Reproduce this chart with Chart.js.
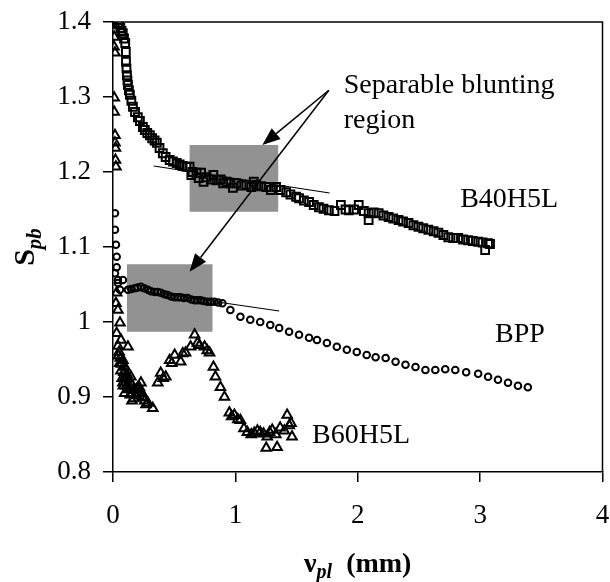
<!DOCTYPE html>
<html><head><meta charset="utf-8">
<script src="https://cdn.jsdelivr.net/npm/chart.js@4/dist/chart.umd.min.js"></script>
<style>html,body{margin:0;padding:0;background:#fff}</style>
</head><body>
<canvas id="c" width="610" height="582"></canvas>
<script>
// ---- data ----
const xTicks = [0, 1, 2, 3, 4];
const yTicks = [0.8, 0.9, 1.0, 1.1, 1.2, 1.3, 1.4];

const b40x = [0.04,0.05,0.06,0.07,0.08,0.09,0.10,0.105,0.106,0.11,0.114,0.118,0.122,0.13,0.138,0.15,0.163,0.18,0.203,0.22,0.244,0.26,0.28,0.301,0.32,0.34,0.358,0.38,0.407,0.43,0.463,0.49,0.52,0.545,0.569,0.60,0.626,0.64,0.65,0.683,0.70,0.72,0.74,0.764,0.80,0.82,0.846,0.88,0.90,0.927,0.96,0.98,1.008,1.05,1.089,1.13,1.15,1.171,1.21,1.252,1.29,1.333,1.37,1.415,1.45,1.496,1.52,1.56,1.602,1.64,1.683,1.72,1.764,1.81,1.862,1.90,1.927,1.97,2.008,2.05,2.089,2.089,2.13,2.171,2.21,2.252,2.29,2.333,2.37,2.415,2.455,2.496,2.535,2.577,2.62,2.659,2.70,2.740,2.78,2.821,2.86,2.902,2.94,2.984,3.02,3.041,3.065,3.081];
const b40y = [1.399,1.397,1.392,1.388,1.385,1.378,1.372,1.360,1.347,1.338,1.329,1.322,1.316,1.309,1.303,1.295,1.287,1.280,1.273,1.268,1.260,1.256,1.252,1.249,1.245,1.242,1.239,1.232,1.225,1.220,1.216,1.214,1.212,1.210,1.208,1.207,1.207,1.196,1.200,1.199,1.192,1.199,1.187,1.193,1.190,1.196,1.189,1.190,1.185,1.187,1.185,1.179,1.185,1.182,1.183,1.180,1.187,1.183,1.181,1.180,1.176,1.180,1.176,1.173,1.170,1.167,1.165,1.162,1.160,1.156,1.153,1.151,1.149,1.148,1.156,1.150,1.149,1.150,1.156,1.148,1.145,1.136,1.146,1.145,1.142,1.140,1.138,1.136,1.134,1.132,1.129,1.127,1.125,1.123,1.121,1.119,1.116,1.113,1.112,1.112,1.110,1.109,1.108,1.107,1.106,1.096,1.105,1.104];

const bppx = [0.016,0.016,0.024,0.03,0.03,0.016,0.04,0.04,0.057,0.081,0.122,0.15,0.179,0.20,0.228,0.255,0.285,0.31,0.341,0.365,0.390,0.42,0.447,0.475,0.504,0.53,0.553,0.58,0.610,0.64,0.667,0.69,0.715,0.74,0.772,0.80,0.829,0.86,0.894,0.959,1.041,1.122,1.203,1.285,1.358,1.439,1.520,1.602,1.667,1.748,1.829,1.911,1.992,2.073,2.146,2.228,2.309,2.390,2.472,2.553,2.634,2.715,2.797,2.886,2.984,3.065,3.146,3.228,3.309,3.390];
const bppy = [1.145,1.123,1.103,1.087,1.073,1.065,1.056,1.052,1.043,1.056,1.043,1.044,1.045,1.046,1.047,1.045,1.043,1.041,1.040,1.040,1.039,1.037,1.036,1.034,1.033,1.033,1.033,1.032,1.032,1.030,1.029,1.029,1.029,1.028,1.027,1.027,1.027,1.026,1.025,1.016,1.007,1.003,1.000,0.996,0.992,0.987,0.983,0.979,0.976,0.972,0.967,0.963,0.960,0.956,0.953,0.952,0.947,0.943,0.940,0.936,0.936,0.937,0.936,0.933,0.931,0.927,0.923,0.919,0.915,0.913];

const b60x = [0.016,0.01,0.008,0.016,0.01,0.01,0.016,0.016,0.02,0.02,0.024,0.03,0.024,0.04,0.057,0.03,0.065,0.04,0.05,0.122,0.06,0.081,0.07,0.098,0.09,0.10,0.081,0.12,0.146,0.11,0.13,0.179,0.16,0.15,0.20,0.228,0.21,0.244,0.17,0.285,0.26,0.325,
  0.045,0.055,0.065,0.075,0.085,0.095,0.105,0.115,0.125,0.14,0.155,0.165,0.19,0.215,0.235,0.255,0.27,
  0.366,0.390,0.41,0.431,0.463,0.48,0.504,0.553,0.57,0.593,0.634,0.667,0.69,0.707,0.748,0.77,0.789,0.821,0.837,0.878,0.911,0.951,0.97,0.992,1.02,1.041,1.07,1.098,1.13,1.154,1.18,1.203,1.23,1.252,1.260,1.28,1.301,1.341,1.33,1.366,1.40,1.423,1.44,1.455,1.463];
const b60y = [1.396,1.380,1.367,1.359,1.299,1.280,1.249,1.239,1.232,1.216,1.207,1.039,1.025,1.016,0.999,0.985,0.976,0.968,0.960,0.967,0.952,0.949,0.944,0.940,0.933,0.927,0.919,0.925,0.927,0.915,0.910,0.909,0.915,0.905,0.912,0.919,0.905,0.900,0.898,0.892,0.895,0.885,
  0.955,0.945,0.935,0.925,0.915,0.905,0.920,0.930,0.912,0.903,0.895,0.910,0.902,0.913,0.905,0.900,0.890,
  0.919,0.932,0.925,0.927,0.949,0.945,0.956,0.947,0.958,0.959,0.967,0.983,0.972,0.969,0.967,0.962,0.959,0.940,0.927,0.913,0.900,0.879,0.874,0.876,0.870,0.869,0.858,0.853,0.850,0.852,0.855,0.853,0.851,0.832,0.847,0.853,0.856,0.833,0.850,0.859,0.855,0.876,0.862,0.865,0.847];

// trend lines (x, y)
const trendB40X = [0.333, 1.77];
const trendB40Y = [1.208, 1.172];
const trendBPPX = [0.08, 1.358];
const trendBPPY = [1.045, 1.0147];

// shaded "separable blunting" regions: [x0, x1, yTop, yBottom]
const regionUpper = [0.626, 1.35, 1.236, 1.147];
const regionLower = [0.114, 0.813, 1.077, 0.987];

// arrows: tail and tips (data units)
const arrowTail = [1.764, 1.309];
const arrowTip1 = [1.220, 1.236];
const arrowTip2 = [0.626, 1.067];

// text labels
const labelTexts = ['Separable blunting', 'region', 'B40H5L', 'BPP', 'B60H5L'];
const labelX = [1.886, 1.886, 2.837, 3.122, 1.626];
const labelY = [1.3053, 1.2587, 1.1533, 0.9733, 0.8387];

// ---- chart ----
const toPts = (xs, ys) => xs.map((x, i) => ({x: x, y: ys[i]}));
const SERIF = '"Liberation Serif", "Times New Roman", serif';

const overlay = {
  id: 'overlay',
  beforeDatasetsDraw(chart) {
    const ctx = chart.ctx, xs = chart.scales.x, ys = chart.scales.y;
    ctx.save();
    ctx.fillStyle = '#929292';
    [regionUpper, regionLower].forEach(r => {
      const x0 = xs.getPixelForValue(r[0]), x1 = xs.getPixelForValue(r[1]);
      const y0 = ys.getPixelForValue(r[2]), y1 = ys.getPixelForValue(r[3]);
      ctx.fillRect(x0, y0, x1 - x0, y1 - y0);
    });
    ctx.restore();
  },
  afterDraw(chart) {
    const ctx = chart.ctx, xs = chart.scales.x, ys = chart.scales.y, a = chart.chartArea;
    ctx.save();
    // frame top/right
    ctx.strokeStyle = '#000'; ctx.lineWidth = 1.5;
    ctx.beginPath();
    ctx.moveTo(a.left, a.top); ctx.lineTo(a.right, a.top); ctx.lineTo(a.right, a.bottom);
    ctx.stroke();
    // arrows
    const tx = xs.getPixelForValue(arrowTail[0]), ty = ys.getPixelForValue(arrowTail[1]);
    [arrowTip1, arrowTip2].forEach(t => {
      const px = xs.getPixelForValue(t[0]), py = ys.getPixelForValue(t[1]);
      const ang = Math.atan2(py - ty, px - tx);
      const L = 18, W = 7;
      const bx = px - L * Math.cos(ang), by = py - L * Math.sin(ang);
      ctx.lineWidth = 1.5;
      ctx.beginPath(); ctx.moveTo(tx, ty); ctx.lineTo(bx, by); ctx.stroke();
      ctx.beginPath();
      ctx.moveTo(px, py);
      ctx.lineTo(bx + W * Math.sin(ang), by - W * Math.cos(ang));
      ctx.lineTo(bx - W * Math.sin(ang), by + W * Math.cos(ang));
      ctx.closePath(); ctx.fillStyle = '#000'; ctx.fill();
    });
    // labels
    ctx.fillStyle = '#000';
    ctx.font = '28px ' + SERIF;
    ctx.textBaseline = 'alphabetic'; ctx.textAlign = 'left';
    labelTexts.forEach((s, i) => {
      ctx.fillText(s, xs.getPixelForValue(labelX[i]), ys.getPixelForValue(labelY[i]));
    });
    // x axis title: ν_pl (mm)
    const parts = [['bold 28px ', 'ν', 0], ['italic bold 20px ', 'pl', 6], ['bold 28px ', '  (mm)', 0]];
    let w = 0;
    parts.forEach(p => { ctx.font = p[0] + SERIF; w += ctx.measureText(p[1]).width; });
    let x = (a.left + a.right) / 2 - w / 2;
    const base = 572;
    parts.forEach(p => { ctx.font = p[0] + SERIF; ctx.fillText(p[1], x, base + p[2]); x += ctx.measureText(p[1]).width; });
    // y axis title: S_pb rotated
    ctx.translate(34, (a.top + a.bottom) / 2);
    ctx.rotate(-Math.PI / 2);
    const yparts = [['bold 30px ', 'S', 0], ['italic bold 21px ', 'pb', 7]];
    w = 0;
    yparts.forEach(p => { ctx.font = p[0] + SERIF; w += ctx.measureText(p[1]).width; });
    x = -w / 2;
    yparts.forEach(p => { ctx.font = p[0] + SERIF; ctx.fillText(p[1], x, p[2]); x += ctx.measureText(p[1]).width; });
    ctx.restore();
  }
};

const axisCommon = {
  type: 'linear',
  grid: { drawOnChartArea: false, drawTicks: true, tickLength: 10, color: '#000', lineWidth: 1.5 },
  border: { display: true, color: '#000', width: 1.5 },
};

new Chart(document.getElementById('c'), {
  type: 'scatter',
  data: {
    datasets: [
      { label: 'trend B40H5L', type: 'line', data: toPts(trendB40X, trendB40Y), borderColor: '#000', borderWidth: 1.2, pointRadius: 0, fill: false, order: 0 },
      { label: 'trend BPP', type: 'line', data: toPts(trendBPPX, trendBPPY), borderColor: '#000', borderWidth: 1.2, pointRadius: 0, fill: false, order: 0 },
      { label: 'B40H5L', data: toPts(b40x, b40y), pointStyle: 'rect', pointRadius: 5.5, borderColor: '#000', borderWidth: 2, backgroundColor: 'rgba(0,0,0,0)', order: 1 },
      { label: 'BPP', data: toPts(bppx, bppy), pointStyle: 'circle', pointRadius: 3.3, borderColor: '#000', borderWidth: 2, backgroundColor: 'rgba(0,0,0,0)', order: 1 },
      { label: 'B60H5L', data: toPts(b60x, b60y), pointStyle: 'triangle', pointRadius: 5.5, borderColor: '#000', borderWidth: 2, backgroundColor: 'rgba(0,0,0,0)', order: 1 }
    ]
  },
  options: {
    responsive: false,
    animation: false,
    devicePixelRatio: 1,
    layout: { padding: { top: 22, right: 5, left: 0, bottom: 0 } },
    plugins: { legend: { display: false }, tooltip: { enabled: false } },
    scales: {
      x: Object.assign({}, axisCommon, {
        min: 0, max: 4,
        afterBuildTicks: s => { s.ticks = xTicks.map(v => ({value: v})); },
        afterFit: s => { s.height = 110; s.paddingLeft = 0; s.paddingRight = 0; },
        ticks: { color: '#000', font: { family: SERIF, size: 27 }, padding: 18, maxRotation: 0, callback: v => String(+v.toFixed(1)) }
      }),
      y: Object.assign({}, axisCommon, {
        min: 0.8, max: 1.4,
        afterBuildTicks: s => { s.ticks = yTicks.map(v => ({value: v})); },
        afterFit: s => { s.width = 113; s.paddingTop = 0; s.paddingBottom = 0; },
        ticks: { color: '#000', font: { family: SERIF, size: 27 }, padding: 12, callback: v => String(+v.toFixed(1)) }
      })
    }
  },
  plugins: [overlay]
});
</script>
</body></html>
